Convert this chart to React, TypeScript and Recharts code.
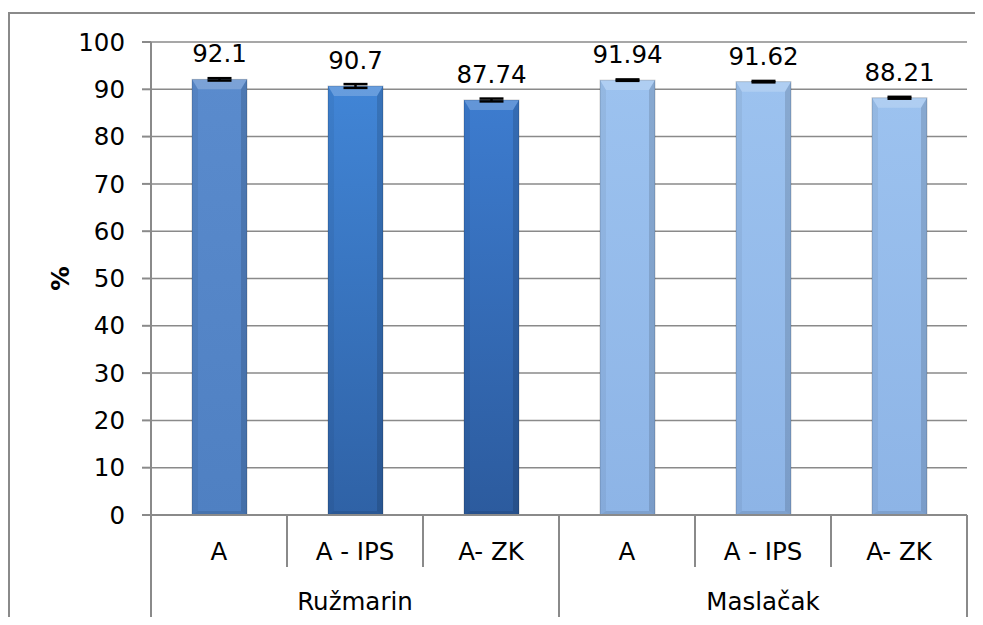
import { BarChart, Bar, XAxis, YAxis, CartesianGrid, LabelList, ErrorBar, Cell } from "recharts";

const groups = ["Ružmarin", "Maslačak"];
const treatments = ["A", "A - IPS", "A- ZK"];
const values = [92.1, 90.7, 87.74, 91.94, 91.62, 88.21];
const errors = [0.25, 0.4, 0.3, 0.15, 0.15, 0.2];
const yTicks = [0, 10, 20, 30, 40, 50, 60, 70, 80, 90, 100];

const data = values.map((v, i) => ({
  key: `${groups[Math.floor(i / 3)]}-${treatments[i % 3]}`,
  treatment: treatments[i % 3],
  group: groups[Math.floor(i / 3)],
  value: v,
  err: errors[i],
}));

const FONT = "'DejaVu Sans', Tahoma, Verdana, sans-serif";
const FS = 24.5;
const GRAY = "#8a8a8a";

// top / bottom colours for each bar
const barColors = [
  ["#5a8bcd", "#4f80c2"],
  ["#4185d6", "#2f62a6"],
  ["#3d7ccf", "#2c5b9e"],
  ["#9cc2ef", "#8db4e6"],
  ["#9cc2ef", "#8db4e6"],
  ["#9cc2ef", "#8db4e6"],
];

function BevelBar(props: any) {
  const { x, y, width: w, height: h, fill } = props;
  if (!w || !h) return null;
  const b = Math.min(10, h / 2);
  const s = 6;
  return (
    <g>
      <rect x={x} y={y} width={w} height={h} fill={fill} />
      <polygon points={`${x},${y} ${x + w},${y} ${x + w - s},${y + b} ${x + s},${y + b}`} fill="#ffffff" opacity={0.2} />
      <polygon points={`${x},${y} ${x + s},${y + b} ${x + s},${y + h - 4} ${x},${y + h}`} fill="#000" opacity={0.05} />
      <polygon points={`${x + w},${y} ${x + w - s},${y + b} ${x + w - s},${y + h - 4} ${x + w},${y + h}`} fill="#000" opacity={0.13} />
      <polygon points={`${x},${y + h} ${x + s},${y + h - 4} ${x + w - s},${y + h - 4} ${x + w},${y + h}`} fill="#000" opacity={0.1} />
      <rect x={x} y={y} width={w} height={h} fill="none" stroke="#000" strokeOpacity={0.18} strokeWidth={1} />
    </g>
  );
}

function CategoryTick(props: any) {
  const { x, y, payload } = props;
  const i = payload.index;
  const half = payload.offset || 68;
  const d = data[i];
  const lx = x - half;
  const rx = x + half;
  const leftLong = i % 3 === 0;
  return (
    <g>
      <line x1={lx} x2={lx} y1={y} y2={y + (leftLong ? 111 : 52)} stroke={GRAY} strokeWidth={2} />
      {i === data.length - 1 && <line x1={rx} x2={rx} y1={y} y2={y + 111} stroke={GRAY} strokeWidth={2} />}
      <text x={x} y={y + 45} textAnchor="middle" fontFamily={FONT} fontSize={FS} fill="#000">
        {d.treatment}
      </text>
      {i % 3 === 1 && (
        <text x={x} y={y + 95} textAnchor="middle" fontFamily={FONT} fontSize={FS} fill="#000">
          {d.group}
        </text>
      )}
    </g>
  );
}

function YTitle(props: any) {
  const vb = props.viewBox || { x: 0, y: 34, width: 143, height: 473 };
  const cx = 52;
  const cy = vb.y + vb.height / 2;
  return (
    <text x={cx} y={cy} transform={`rotate(-90, ${cx}, ${cy})`} textAnchor="middle" dominantBaseline="central" fontFamily={FONT} fontSize={FS} fontWeight="bold" fill="#000">
      %
    </text>
  );
}

export default function App() {
  return (
    <div style={{ position: "relative", width: 975, height: 609, overflow: "hidden", background: "#fff" }}>
      <div
        style={{
          position: "absolute",
          left: 0,
          top: 4,
          width: 1000,
          height: 700,
          borderTop: `2px solid ${GRAY}`,
          borderLeft: `2px solid ${GRAY}`,
        }}
      />
      <BarChart width={975} height={609} data={data} margin={{ top: 34, right: 16, left: 0, bottom: 0 }} barSize={55}>
        <defs>
          {barColors.map((c, i) => (
            <linearGradient key={i} id={`bar${i}`} x1="0" y1="0" x2="0" y2="1">
              <stop offset="0%" stopColor={c[0]} />
              <stop offset="100%" stopColor={c[1]} />
            </linearGradient>
          ))}
        </defs>
        <CartesianGrid vertical={false} stroke={GRAY} strokeWidth={1.5} />
        <XAxis
          dataKey="key"
          height={102}
          interval={0}
          tickSize={0}
          tickMargin={0}
          tickLine={false}
          axisLine={{ stroke: GRAY, strokeWidth: 2 }}
          tick={<CategoryTick />}
        />
        <YAxis
          width={143}
          domain={[0, 100]}
          ticks={yTicks}
          interval={0}
          tickSize={9}
          tickMargin={17}
          axisLine={{ stroke: GRAY, strokeWidth: 2 }}
          tickLine={{ stroke: GRAY, strokeWidth: 2 }}
          tick={{ fontFamily: FONT, fontSize: FS, fill: "#000" }}
          label={<YTitle />}
        />
        <Bar dataKey="value" isAnimationActive={false} shape={<BevelBar />}>
          {data.map((d, i) => (
            <Cell key={d.key} fill={`url(#bar${i})`} />
          ))}
          <ErrorBar dataKey="err" width={12} stroke="#000" strokeWidth={2.5} direction="y" />
          <LabelList dataKey="value" position="top" offset={17} fontFamily={FONT} fontSize={FS} fill="#000" />
        </Bar>
      </BarChart>
    </div>
  );
}
